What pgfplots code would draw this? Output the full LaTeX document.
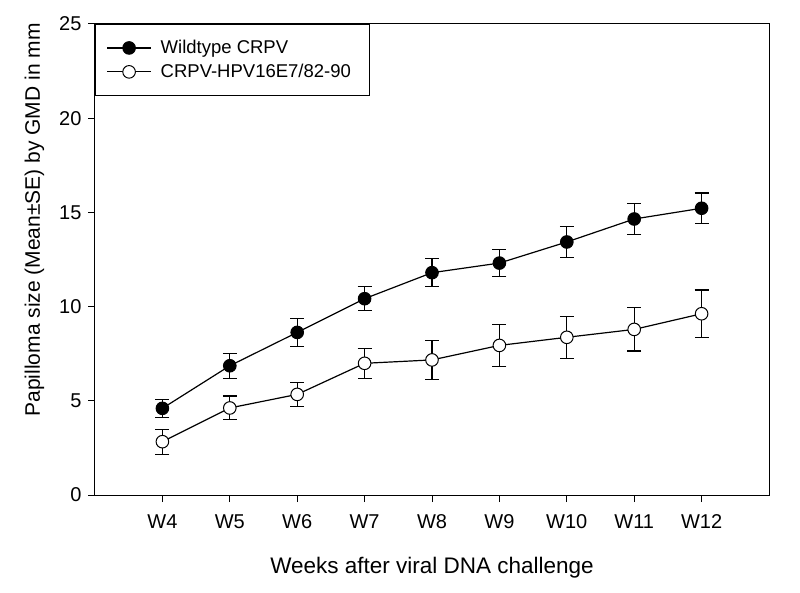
\documentclass[border=0pt]{standalone}
\usepackage{pgfplots}
\pgfplotsset{compat=1.18}
\usepackage{fontspec}
\setmainfont{Liberation Sans}
\begin{document}
\begin{tikzpicture}
\path[use as bounding box] (-95pt,-97pt) rectangle (705pt,495pt);
\begin{axis}[
  at={(0,0)}, anchor=south west,
  scale only axis, width=674pt, height=471pt,
  xmin=0, xmax=10, ymin=0, ymax=25,
  xtick={1,2,3,4,5,6,7,8,9},
  xticklabels={W4,W5,W6,W7,W8,W9,W10,W11,W12},
  ytick={0,5,10,15,20,25},
  tick pos=left, tick align=outside, major tick length=7pt,
  tick style={line width=1pt, black},
  axis line style={line width=1pt},
  /pgf/number format/assume math mode=true,
  ticklabel style={font=\fontsize{20}{22}\selectfont},
  xticklabel style={yshift=-9pt},
  yticklabel style={xshift=-3pt},
  xlabel={Weeks after viral DNA challenge},
  ylabel={Papilloma size (Mean±SE) by GMD in mm},
  xlabel style={font=\fontsize{22.5}{24}\selectfont, yshift=-22pt},
  ylabel style={font=\fontsize{21}{23}\selectfont, at={(ticklabel cs:0.584,8pt)}},
  legend style={at={(0,1)}, anchor=north west, draw=black, line width=1pt,
    font=\fontsize{18.5}{20}\selectfont, inner xsep=11pt, inner ysep=14pt,
    row sep=5pt, cells={anchor=west},
    /tikz/every odd column/.append style={column sep=7pt}},
  legend image code/.code={\draw[mark repeat=2,mark phase=2] plot coordinates {(0pt,0pt) (22pt,0pt) (44pt,0pt)};},
  legend cell align=left,
]
\addplot[black, line width=1.2pt, mark=*, mark size=6.3pt, mark options={fill=black, line width=1pt},
  error bars/.cd, y dir=both, y explicit,
  error bar style={line width=1.2pt, black},
  error mark options={rotate=90, mark size=7pt, line width=1.2pt, black}]
  table[x=x, y=y, y error=e] {
x y e
1 4.60 0.48
2 6.86 0.66
3 8.63 0.75
4 10.42 0.63
5 11.80 0.75
6 12.31 0.72
7 13.43 0.81
8 14.65 0.82
9 15.22 0.81
};
\addlegendentry{Wildtype CRPV}
\addplot[black, line width=1.2pt, mark=*, mark size=6.3pt, mark options={fill=white, line width=1pt},
  error bars/.cd, y dir=both, y explicit,
  error bar style={line width=1.2pt, black},
  error mark options={rotate=90, mark size=7pt, line width=1.2pt, black}]
  table[x=x, y=y, y error=e] {
x y e
1 2.83 0.66
2 4.62 0.63
3 5.34 0.65
4 6.99 0.79
5 7.17 1.05
6 7.94 1.12
7 8.37 1.12
8 8.79 1.15
9 9.62 1.26
};
\addlegendentry{CRPV-HPV16E7/82-90\rule{6pt}{0pt}}
\end{axis}
\end{tikzpicture}
\end{document}
